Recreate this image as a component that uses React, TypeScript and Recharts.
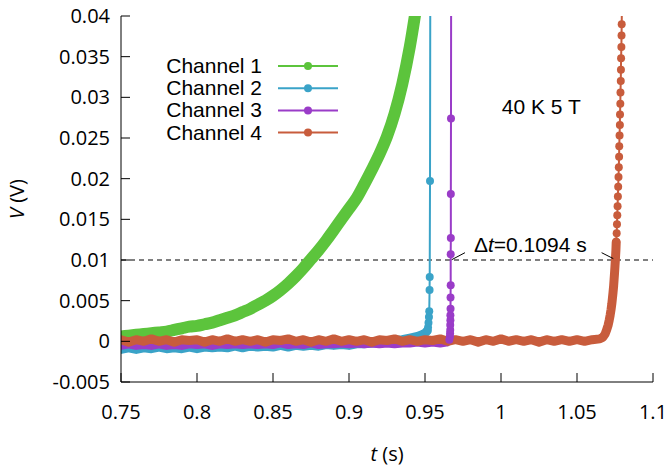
import { LineChart, Line, XAxis, YAxis, ReferenceLine, ReferenceDot, Legend } from 'recharts';

const channelNames = ['Channel 1', 'Channel 2', 'Channel 3', 'Channel 4'];
const channelColors = ['#5cc43c', '#3aa3c8', '#9a3cc8', '#c85c3c'];

const xTicks = [0.75, 0.8, 0.85, 0.9, 0.95, 1, 1.05, 1.1];
const yTicks = [-0.005, 0, 0.005, 0.01, 0.015, 0.02, 0.025, 0.03, 0.035, 0.04];
const thresholdV = 0.01;
const fieldLabel = '40 K 5 T';
const deltaLabel = '=0.1094 s';

// [t (s), V (V)] — dense, noisy part of each trace
const channel1: [number, number][] = [
  [0.75, 0.0006], [0.755, 0.0007], [0.76, 0.0008], [0.765, 0.0009], [0.77, 0.001],
  [0.775, 0.0011], [0.78, 0.0012], [0.785, 0.0014], [0.79, 0.0016], [0.795, 0.0018],
  [0.8, 0.0019], [0.805, 0.0021], [0.81, 0.0023], [0.815, 0.0026], [0.82, 0.0029],
  [0.825, 0.0032], [0.83, 0.0036], [0.835, 0.004], [0.84, 0.0045], [0.845, 0.005],
  [0.85, 0.0056], [0.855, 0.0063], [0.86, 0.0071], [0.865, 0.008], [0.87, 0.009],
  [0.875, 0.0101], [0.88, 0.0112], [0.885, 0.0124], [0.89, 0.0137], [0.895, 0.015],
  [0.9, 0.0163], [0.905, 0.0176], [0.91, 0.0193], [0.915, 0.0211], [0.92, 0.023],
  [0.925, 0.0252], [0.93, 0.028], [0.935, 0.0316], [0.94, 0.0362], [0.945, 0.042],
];

const channel2Base: [number, number][] = [
  [0.75, -0.001], [0.755, -0.0008], [0.76, -0.001], [0.765, -0.0008], [0.77, -0.0009],
  [0.775, -0.0007], [0.78, -0.0009], [0.785, -0.0008], [0.79, -0.0009], [0.795, -0.0007],
  [0.8, -0.0009], [0.805, -0.0007], [0.81, -0.0008], [0.815, -0.0007], [0.82, -0.0008],
  [0.825, -0.0006], [0.83, -0.0008], [0.835, -0.0006], [0.84, -0.0007], [0.845, -0.0006],
  [0.85, -0.0007], [0.855, -0.0005], [0.86, -0.0007], [0.865, -0.0005], [0.87, -0.0006],
  [0.875, -0.0005], [0.88, -0.0006], [0.885, -0.0004], [0.89, -0.0005], [0.895, -0.0004],
  [0.9, -0.0005], [0.905, -0.0003], [0.91, -0.0003], [0.915, -0.0002], [0.92, -0.0002],
  [0.925, 0.0], [0.93, 0.0001], [0.935, 0.0002], [0.94, 0.0004], [0.945, 0.0006],
  [0.948, 0.0008], [0.95, 0.001], [0.9515, 0.0013],
];
// sampled points of the fast transition
const channel2Rise: [number, number][] = [
  [0.952, 0.0017], [0.9523, 0.0023], [0.9526, 0.003], [0.9528, 0.0037], [0.953, 0.0063],
  [0.9531, 0.0079], [0.9533, 0.0197], [0.9536, 0.06],
];

const channel3Base: [number, number][] = [
  [0.75, -0.0005], [0.755, -0.0003], [0.76, -0.0005], [0.765, -0.0004], [0.77, -0.0005],
  [0.775, -0.0003], [0.78, -0.0005], [0.785, -0.0004], [0.79, -0.0005], [0.795, -0.0003],
  [0.8, -0.0004], [0.805, -0.0003], [0.81, -0.0005], [0.815, -0.0003], [0.82, -0.0004],
  [0.825, -0.0003], [0.83, -0.0004], [0.835, -0.0003], [0.84, -0.0004], [0.845, -0.0003],
  [0.85, -0.0004], [0.855, -0.0002], [0.86, -0.0004], [0.865, -0.0003], [0.87, -0.0004],
  [0.875, -0.0002], [0.88, -0.0004], [0.885, -0.0003], [0.89, -0.0003], [0.895, -0.0002],
  [0.9, -0.0003], [0.905, -0.0002], [0.91, -0.0003], [0.915, -0.0002], [0.92, -0.0003],
  [0.925, -0.0002], [0.93, -0.0003], [0.935, -0.0002], [0.94, -0.0002], [0.945, -0.0001],
  [0.95, -0.0002], [0.955, -0.0001], [0.96, -0.0002], [0.964, -0.0001], [0.966, 0.0002],
];
const channel3Rise: [number, number][] = [
  [0.9664, 0.0006], [0.9665, 0.001], [0.9666, 0.0014], [0.9666, 0.002], [0.9667, 0.0026],
  [0.9667, 0.0032], [0.9668, 0.004], [0.9668, 0.0054], [0.9669, 0.0069], [0.9669, 0.0107],
  [0.967, 0.0127], [0.967, 0.0181], [0.9671, 0.0274], [0.9673, 0.06],
];

const channel4Base: [number, number][] = [
  [0.75, 0.0002], [0.755, -0.0001], [0.76, 0.0002], [0.765, 0.0], [0.77, 0.0003],
  [0.775, 0.0], [0.78, 0.0002], [0.785, -0.0001], [0.79, 0.0002], [0.795, 0.0001],
  [0.8, 0.0002], [0.805, -0.0001], [0.81, 0.0002], [0.815, 0.0], [0.82, 0.0003],
  [0.825, 0.0], [0.83, 0.0002], [0.835, 0.0], [0.84, 0.0002], [0.845, -0.0001],
  [0.85, 0.0002], [0.855, 0.0001], [0.86, 0.0003], [0.865, 0.0], [0.87, 0.0002],
  [0.875, -0.0001], [0.88, 0.0002], [0.885, 0.0], [0.89, 0.0003], [0.895, 0.0],
  [0.9, 0.0002], [0.905, 0.0], [0.91, 0.0002], [0.915, -0.0001], [0.92, 0.0002],
  [0.925, 0.0001], [0.93, 0.0003], [0.935, 0.0], [0.94, 0.0002], [0.945, 0.0],
  [0.95, 0.0002], [0.955, 0.0001], [0.96, 0.0003], [0.965, 0.0], [0.97, 0.0002],
  [0.975, 0.0], [0.98, 0.0002], [0.985, -0.0001], [0.99, 0.0002], [0.995, 0.0],
  [1.0, 0.0003], [1.005, 0.0], [1.01, 0.0002], [1.015, 0.0], [1.02, 0.0002],
  [1.025, -0.0001], [1.03, 0.0002], [1.035, 0.0], [1.04, 0.0002], [1.045, 0.0],
  [1.05, 0.0002], [1.055, 0.0], [1.06, 0.0002], [1.065, 0.0003], [1.067, 0.0005],
  [1.0685, 0.0009], [1.0695, 0.0014], [1.0705, 0.002], [1.0712, 0.0026], [1.0718, 0.0032],
  [1.0724, 0.0039], [1.0729, 0.0046], [1.0733, 0.0053], [1.0737, 0.006], [1.0741, 0.0068],
  [1.0744, 0.0076], [1.0747, 0.0084], [1.075, 0.0093], [1.0753, 0.0102], [1.0756, 0.0112],
  [1.0758, 0.0122],
];
const channel4Rise: [number, number][] = [
  [1.0761, 0.0133], [1.0763, 0.0144], [1.0765, 0.0155], [1.0767, 0.0166],
  [1.0769, 0.0178], [1.0771, 0.019], [1.0773, 0.0202], [1.0775, 0.0214], [1.0777, 0.0227],
  [1.0778, 0.024], [1.078, 0.0253], [1.0782, 0.0266], [1.0783, 0.0279], [1.0785, 0.0292],
  [1.0786, 0.0306], [1.0788, 0.032], [1.0789, 0.0334], [1.079, 0.0348], [1.0792, 0.0362],
  [1.0793, 0.0376], [1.0794, 0.039], [1.0796, 0.042],
];

const bands = [channel1, channel2Base, channel3Base, channel4Base];
const rises = [null, channel2Rise, channel3Rise, channel4Rise];

const toRows = (pairs: [number, number][]) => pairs.map(([t, v]) => ({ t, v }));

const tickFamily = 'Open Sans';
const textFont = 'Liberation Sans';

function XTick({ x, y, payload }: any) {
  return (
    <text x={x} y={y} dy={14} textAnchor="middle" fontFamily={tickFamily} fontSize={20} fill="#000">
      {String(payload.value)}
    </text>
  );
}

function YTick({ x, y, payload }: any) {
  return (
    <text x={x} y={y} dy={7} textAnchor="end" fontFamily={tickFamily} fontSize={20} fill="#000">
      {String(payload.value)}
    </text>
  );
}

function LegendBox() {
  return (
    <svg width={200} height={92}>
      {channelNames.map((name, i) => {
        const y = 14 + i * 22.2;
        return (
          <g key={name}>
            <text x={112} y={y + 7} textAnchor="end" fontFamily={textFont} fontSize={21} fill="#000">
              {name}
            </text>
            <line x1={128} x2={188} y1={y} y2={y} stroke={channelColors[i]} strokeWidth={2} />
            <circle cx={158} cy={y} r={4} fill={channelColors[i]} />
          </g>
        );
      })}
    </svg>
  );
}

export default function App() {
  const series: any[] = [];
  bands.forEach((band, i) => {
    series.push(
      <Line
        key={`band-${i}`}
        data={toRows(band)}
        dataKey="v"
        type={i === 0 ? 'monotone' : 'linear'}
        stroke={channelColors[i]}
        strokeWidth={i === 0 ? 12 : 9}
        strokeLinejoin="round"
        strokeLinecap="round"
        dot={false}
        activeDot={false}
        isAnimationActive={false}
      />
    );
    const rise = rises[i];
    if (rise) {
      series.push(
        <Line
          key={`rise-${i}`}
          data={toRows([band[band.length - 1], ...rise])}
          dataKey="v"
          type="linear"
          stroke={channelColors[i]}
          strokeWidth={2}
          dot={{ r: 4, fill: channelColors[i], stroke: 'none', strokeWidth: 0 }}
          activeDot={false}
          isAnimationActive={false}
        />
      );
    }
  });

  return (
    <div style={{ position: 'absolute', left: 0, top: 0, background: '#fff' }}>
      <LineChart width={667} height={466} margin={{ top: 16, right: 14, left: 0, bottom: 0 }}>
        <XAxis
          type="number"
          dataKey="t"
          domain={[0.75, 1.1]}
          ticks={xTicks}
          interval={0}
          allowDataOverflow
          height={84}
          stroke="#000"
          tickSize={-9}
          tickMargin={32}
          tick={<XTick />}
          label={({ viewBox }: any) => (
            <text x={viewBox.x + viewBox.width / 2} y={461} textAnchor="middle" fontFamily={tickFamily} fontSize={20} fill="#000">
              <tspan fontStyle="italic">t</tspan> (s)
            </text>
          )}
        />
        <XAxis xAxisId="top" orientation="top" type="number" domain={[0.75, 1.1]} ticks={xTicks} interval={0} height={0} stroke="#000" tickSize={-9} tick={false} />
        <YAxis
          type="number"
          domain={[-0.005, 0.04]}
          ticks={yTicks}
          interval={0}
          allowDataOverflow
          width={121}
          stroke="#000"
          tickSize={-9}
          tickMargin={20}
          tick={<YTick />}
          label={({ viewBox }: any) => (
            <text
              x={24}
              y={viewBox.y + viewBox.height / 2}
              transform={`rotate(-90 24 ${viewBox.y + viewBox.height / 2})`}
              textAnchor="middle"
              fontFamily={tickFamily}
              fontSize={20}
              fill="#000"
            >
              <tspan fontStyle="italic">V</tspan> (V)
            </text>
          )}
        />
        <YAxis yAxisId="right" orientation="right" type="number" domain={[-0.005, 0.04]} ticks={yTicks} interval={0} width={0} stroke="#000" tickSize={-9} tick={false} />

        <ReferenceLine y={thresholdV} stroke="#000" strokeWidth={1} strokeDasharray="5 4" />

        {series}

        <ReferenceLine segment={[{ x: 0.9676, y: 0.01004 }, { x: 0.9763, y: 0.0109 }]} stroke="#000" strokeWidth={1} />
        <ReferenceLine segment={[{ x: 1.0662, y: 0.0109 }, { x: 1.0739, y: 0.01017 }]} stroke="#000" strokeWidth={1} />

        <ReferenceDot
          x={0.9822}
          y={0.01094}
          r={0}
          fill="none"
          stroke="none"
          label={({ viewBox }: any) => (
            <text x={viewBox.x} y={viewBox.y} fontFamily={textFont} fontSize={21} fill="#000">
              Δ<tspan fontStyle="italic">t</tspan>
              {deltaLabel}
            </text>
          )}
        />
        <ReferenceDot
          x={1.0005}
          y={0.028}
          r={0}
          fill="none"
          stroke="none"
          label={({ viewBox }: any) => (
            <text x={viewBox.x} y={viewBox.y} fontFamily={textFont} fontSize={21} fill="#000">
              {fieldLabel}
            </text>
          )}
        />

        <Legend
          layout="horizontal"
          verticalAlign="middle"
          align="center"
          wrapperStyle={{ left: 150, top: 52, width: 200, height: 92 }}
          content={() => <LegendBox />}
        />
      </LineChart>
    </div>
  );
}
